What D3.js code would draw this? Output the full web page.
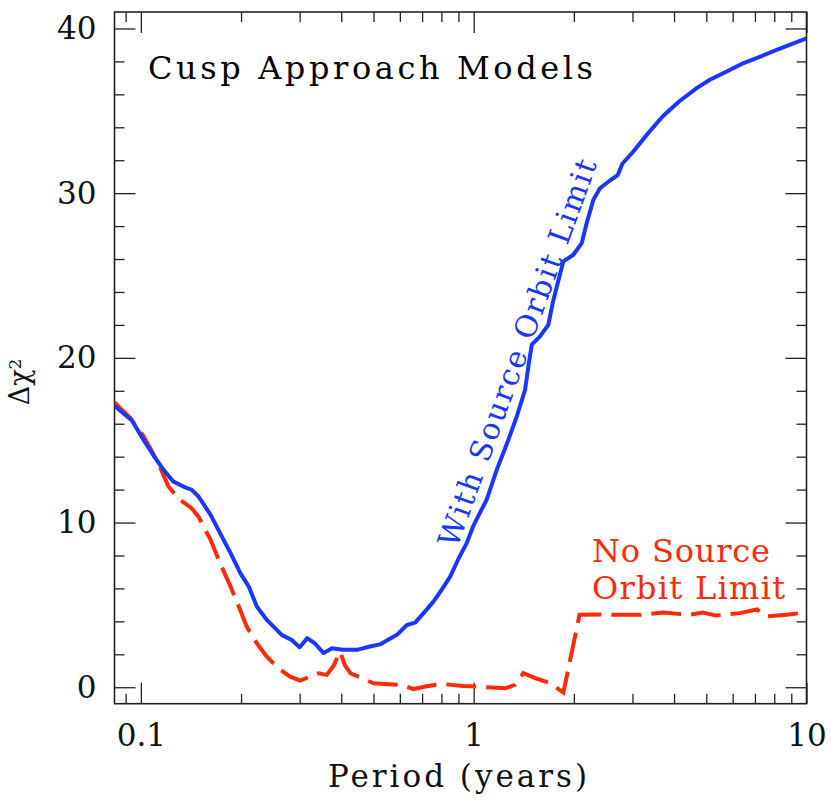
<!DOCTYPE html>
<html>
<head>
<meta charset="utf-8">
<script src="https://cdn.jsdelivr.net/npm/d3@7"></script>
<style>
  body { margin: 0; background: #fff; }
  text { font-family: "DejaVu Serif", serif; }
</style>
</head>
<body>
<div id="chart"></div>
<script>
// period (years) and delta chi^2
var blueP = [0.0833,0.094,0.102,0.109,0.117,0.125,0.137,0.142,0.149,0.162,0.173,0.186,0.199,0.211,0.223,0.239,0.265,0.284,0.300,0.316,0.333,0.354,0.375,0.406,0.446,0.488,0.523,0.55,0.588,0.63,0.667,0.707,0.757,0.801,0.85,0.90,0.953,0.998,1.045,1.095,1.173,1.27,1.347,1.427,1.46,1.495,1.582,1.676,1.735,1.797,1.86,1.993,2.112,2.186,2.289,2.396,2.58,2.71,2.8,3.01,3.33,3.7,4.15,4.69,5.14,5.78,6.47,7.3,8.1,9.1,10];
var blueV = [17.09,16.2,15.0,14.1,13.2,12.5,12.1,12.0,11.58,10.47,9.36,8.14,6.93,6.11,4.9,4.09,3.18,2.87,2.43,2.98,2.67,2.07,2.37,2.27,2.27,2.47,2.6,2.85,3.18,3.78,3.92,4.5,5.2,5.91,6.72,7.8,8.75,9.8,10.6,11.4,13.2,15.0,16.44,18.06,19.48,20.8,21.3,22.0,23.5,24.7,25.86,26.26,26.97,28.19,29.6,30.3,30.8,31.1,31.8,32.5,33.6,34.67,35.58,36.39,36.9,37.4,37.9,38.31,38.68,39.08,39.4];

var redP = [0.0833,0.093,0.102,0.108,0.114,0.121,0.131,0.142,0.149,0.162,0.173,0.186,0.197,0.208,0.223,0.239,0.259,0.281,0.301,0.322,0.342,0.362,0.379,0.397,0.410,0.426,0.45,0.50,0.54,0.61,0.66,0.715,0.80,0.93,1.25,1.33,1.41,1.53,1.70,1.86,2.08,2.39,2.75,3.18,3.71,4.43,4.88,5.35,6.3,7.1,7.6,8.7,10];
var redV = [17.29,16.34,15.22,14.31,13.4,12.19,11.38,10.87,10.36,8.95,7.53,6.11,4.9,3.68,2.67,1.86,1.15,0.64,0.40,0.64,0.85,0.75,1.29,2.15,1.35,0.85,0.64,0.24,0.2,0.14,-0.12,0.04,0.2,0.08,-0.06,0.14,0.85,0.55,0.24,-0.33,4.4,4.42,4.4,4.4,4.53,4.4,4.53,4.35,4.5,4.72,4.3,4.4,4.55];

var xMajor = [0.1, 1, 10];
var xMajorLabels = ["0.1", "1", "10"];
var yMajor = [0, 10, 20, 30, 40];

var blue = "#1a36ff", red = "#ff2a08";

var W = 831, H = 803;
var margin = {top: 12, right: 24.5, bottom: 99.3, left: 114.5};
var width = W - margin.left - margin.right;
var height = H - margin.top - margin.bottom;

var svg = d3.select("#chart").append("svg")
    .attr("width", W)
    .attr("height", H)
  .append("g")
    .attr("transform", "translate(" + margin.left + "," + margin.top + ")");

var x = d3.scaleLog().domain([1/12, 10]).range([0, width]);
var y = d3.scaleLinear().domain([-1, 41]).range([height, 0]);

// minor ticks
var xMinor = [];
[0.01, 0.1, 1].forEach(function(d) {
    for (var k = 2; k <= 9; k++) {
        var v = d * k;
        if (v >= 1/12 && v <= 10) xMinor.push(v);
    }
});
var yMinor = d3.range(0, 41, 2).filter(function(d) { return d % 10 !== 0; });

function styleAxis(g) {
    g.select(".domain").remove();
    g.selectAll("line").attr("stroke", "#222").attr("stroke-width", 1.3);
    g.selectAll("text").attr("fill", "#111").style("font-size", "31px");
}

// bottom
svg.append("g").attr("transform", "translate(0," + height + ")")
    .call(d3.axisBottom(x).tickValues(xMinor).tickSize(-10).tickFormat(""))
    .call(styleAxis);
svg.append("g").attr("transform", "translate(0," + height + ")")
    .call(d3.axisBottom(x).tickValues(xMajor).tickSize(-21).tickPadding(20)
        .tickFormat(function(d, i) { return xMajorLabels[i]; }))
    .call(styleAxis);
// top
svg.append("g")
    .call(d3.axisTop(x).tickValues(xMinor).tickSize(-10).tickFormat(""))
    .call(styleAxis);
svg.append("g")
    .call(d3.axisTop(x).tickValues(xMajor).tickSize(-21).tickFormat(""))
    .call(styleAxis);
// left
svg.append("g")
    .call(d3.axisLeft(y).tickValues(yMinor).tickSize(-10).tickFormat(""))
    .call(styleAxis);
svg.append("g")
    .call(d3.axisLeft(y).tickValues(yMajor).tickSize(-21).tickPadding(18).tickFormat(d3.format("d")))
    .call(styleAxis);
// right
svg.append("g").attr("transform", "translate(" + width + ",0)")
    .call(d3.axisRight(y).tickValues(yMinor).tickSize(-10).tickFormat(""))
    .call(styleAxis);
svg.append("g").attr("transform", "translate(" + width + ",0)")
    .call(d3.axisRight(y).tickValues(yMajor).tickSize(-21).tickFormat(""))
    .call(styleAxis);

// frame
svg.append("rect")
    .attr("width", width).attr("height", height)
    .attr("fill", "none").attr("stroke", "#222").attr("stroke-width", 1.6);

svg.append("clipPath").attr("id", "clip")
  .append("rect").attr("width", width).attr("height", height);

var line = d3.line()
    .x(function(d) { return x(d[0]); })
    .y(function(d) { return y(d[1]); });

svg.append("path")
    .datum(d3.zip(redP, redV))
    .attr("clip-path", "url(#clip)")
    .attr("fill", "none")
    .attr("stroke", red)
    .attr("stroke-width", 4)
    .attr("stroke-dasharray", "30,10")
    .attr("d", line);

svg.append("path")
    .datum(d3.zip(blueP, blueV))
    .attr("clip-path", "url(#clip)")
    .attr("fill", "none")
    .attr("stroke", blue)
    .attr("stroke-width", 4)
    .attr("stroke-linejoin", "round")
    .attr("d", line);

// texts (positions in page pixels)
var page = d3.select("#chart svg");

page.append("text")
    .attr("x", 148).attr("y", 79)
    .attr("textLength", 445).attr("lengthAdjust", "spacing")
    .style("font-size", "32px").attr("fill", "#000")
    .text("Cusp Approach Models");

page.append("text")
    .attr("x", 328).attr("y", 787)
    .attr("textLength", 259).attr("lengthAdjust", "spacing")
    .style("font-size", "31px").attr("fill", "#111")
    .text("Period (years)");

var ylab = page.append("text")
    .attr("transform", "translate(29,382) rotate(-90)")
    .attr("text-anchor", "middle")
    .style("font-size", "27px").attr("fill", "#111");
ylab.append("tspan").text("\u0394\u03c7");
ylab.append("tspan").attr("dy", "-0.45em").style("font-size", "17px").text("2");

page.append("text")
    .attr("transform", "translate(457,549) rotate(-70)")
    .attr("textLength", 410).attr("lengthAdjust", "spacing")
    .style("font-size", "30px").attr("fill", blue)
    .text("With Source Orbit Limit");

page.append("text")
    .attr("x", 592).attr("y", 562)
    .attr("textLength", 178).attr("lengthAdjust", "spacing")
    .style("font-size", "32px").attr("fill", red)
    .text("No Source");
page.append("text")
    .attr("x", 592).attr("y", 599)
    .attr("textLength", 193).attr("lengthAdjust", "spacing")
    .style("font-size", "32px").attr("fill", red)
    .text("Orbit Limit");
</script>
</body>
</html>
